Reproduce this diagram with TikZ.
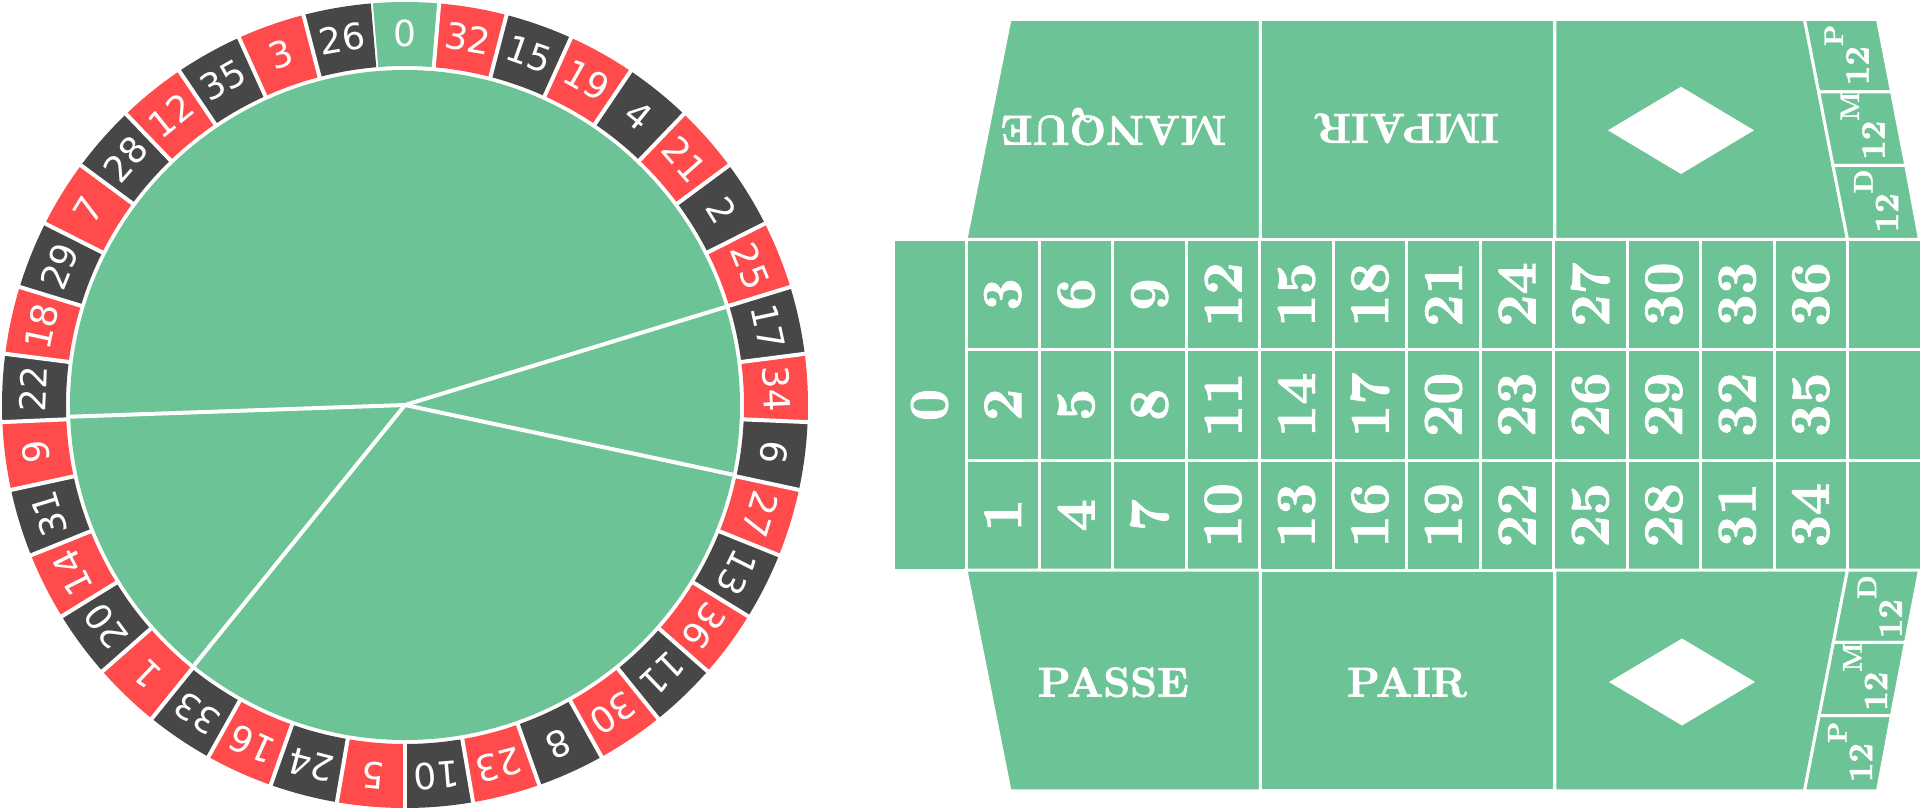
\documentclass[tikz,border=0pt]{standalone}
\usepackage{fontspec}
\newfontfamily\wheelfont{DejaVu Sans}
\newfontfamily\tfont{lmroman10-bold.otf}[FakeBold=1.6]
\definecolor{felt}{HTML}{6CC395}
\definecolor{pred}{HTML}{FF4B4B}
\definecolor{pdark}{HTML}{474747}
\begin{document}
\begin{tikzpicture}[x=1pt,y=1pt,
  cell/.style={fill=felt,draw=white,line width=3pt,line join=miter},
  sep/.style={draw=white,line width=4pt},
  spoke/.style={draw=white,line width=4pt},
  wlabel/.style={text=white,font=\wheelfont\fontsize{36}{40}\selectfont,inner sep=0pt},
  num/.style={text=white,font=\tfont\fontsize{56}{60}\selectfont,rotate=90,inner sep=0pt},
  word/.style={text=white,font=\tfont\fontsize{42}{46}\selectfont,inner sep=0pt,anchor=base},
  doz/.style={text=white,font=\tfont\fontsize{34}{38}\selectfont,rotate=90,inner sep=0pt},
  gem/.style={fill=white}]
\useasboundingbox (0,0) rectangle (1920,-810);
% ---------------- wheel ----------------
\coordinate (c) at (405,-405);
\fill[felt] (c) circle (335);
\foreach \n [count=\j from 0] in {0,32,15,19,4,21,2,25,17,34,6,27,13,36,11,30,8,23,10,5,24,16,33,1,20,14,31,9,22,18,29,7,28,12,35,3,26}{
  \pgfmathsetmacro\a{90-\j*360/37}
  \pgfmathsetmacro\aa{\a+180/37}
  \pgfmathsetmacro\ab{\a-180/37}
  \ifnum\j=0 \def\col{felt}\else\ifodd\j \def\col{pred}\else\def\col{pdark}\fi\fi
  \fill[fill=\col] ([shift={(c)}]\aa:403) arc[start angle=\aa, end angle=\ab, radius=403]
     -- ([shift={(c)}]\ab:339) arc[start angle=\ab, end angle=\aa, radius=339] -- cycle;
  \draw[sep] ([shift={(c)}]\aa:337) -- ([shift={(c)}]\aa:406);
  \node[wlabel, rotate=\a-90] (w\n) at ([shift={(c)}]\a:372) {\n};
}
\coordinate (e1) at ([shift={(c)}]17:335);
\coordinate (e2) at ([shift={(c)}]182:335);
\coordinate (e3) at ([shift={(c)}]231:335);
\coordinate (e4) at ([shift={(c)}]-12:335);
\draw[spoke] (c) -- (e1);
\draw[spoke] (c) -- (e2);
\draw[spoke] (c) -- (e3);
\draw[spoke] (c) -- (e4);
% ---------------- table: top section ----------------
\draw[cell] (1010,-19.5) -- (1260.4,-19.5) -- (1260.4,-239.5) -- (966,-239.5) -- cycle;
\draw[cell] (1260.4,-19.5) rectangle (1554.8,-239.5);
\draw[cell] (1554.8,-19.5) -- (1804.5,-19.5) -- (1847.5,-239.5) -- (1554.8,-239.5) -- cycle;
\draw[cell] (1804.5,-19.5) -- (1877.5,-19.5) -- (1891.6,-92) -- (1818.7,-92) -- cycle;
\draw[cell] (1818.7,-92) -- (1891.6,-92) -- (1905.8,-165.5) -- (1833.0,-165.5) -- cycle;
\draw[cell] (1833.0,-165.5) -- (1905.8,-165.5) -- (1919.5,-239.5) -- (1847.5,-239.5) -- cycle;
\node[word, rotate=180] (manque) at (1113.5,-116) {MANQUE};
\node[word, rotate=180] (impair) at (1406.7,-114) {IMPAIR};
\path[gem] (1608,-130.3) -- (1681,-86.7) -- (1754,-130.3) -- (1681,-174) -- cycle;
\node[doz] (dP1) at (1846.5,-55) {12\raisebox{0.75em}{\fontsize{27}{27}\selectfont P}};
\node[doz] (dM1) at (1862.5,-125.5) {12\raisebox{0.75em}{\fontsize{27}{27}\selectfont M}};
\node[doz] (dD1) at (1876,-201) {12\raisebox{0.75em}{\fontsize{27}{27}\selectfont D}};
% ---------------- table: grid ----------------
\draw[cell] (893,-239.5) rectangle (966,-570.5);
\node[num] (g0) at (929.5,-405) {0};
\foreach \cc in {0,...,11}{
  \foreach \r in {0,1,2}{
    \pgfmathsetmacro\xa{966+\cc*73.46}
    \pgfmathsetmacro\xb{966+(\cc+1)*73.46}
    \pgfmathsetmacro\ya{{239.5,349.5,460}[\r]}
    \pgfmathsetmacro\yb{{349.5,460,570.5}[\r]}
    \pgfmathtruncatemacro\n{3*\cc+3-\r}
    \draw[cell] (\xa,-\ya) rectangle (\xb,-\yb);
    \node[num] (g\n) at ({(\xa+\xb)/2},{-(\ya+\yb)/2}) {\n};
  }
}
\foreach \r in {0,1,2}{
  \pgfmathsetmacro\ya{{239.5,349.5,460}[\r]}
  \pgfmathsetmacro\yb{{349.5,460,570.5}[\r]}
  \draw[cell] (1847.5,-\ya) rectangle (1921,-\yb);
}
% ---------------- table: bottom section ----------------
\draw[cell] (966,-570) -- (1260.4,-570) -- (1260.4,-790.8) -- (1010,-790.8) -- cycle;
\draw[cell] (1260.4,-570) rectangle (1554.8,-790.8);
\draw[cell] (1554.8,-570) -- (1847.5,-570) -- (1804.5,-790.8) -- (1554.8,-790.8) -- cycle;
\draw[cell] (1847.5,-570) -- (1919.5,-570) -- (1905.5,-642.3) -- (1833.4,-642.3) -- cycle;
\draw[cell] (1833.4,-642.3) -- (1905.5,-642.3) -- (1891.4,-715.7) -- (1819.1,-715.7) -- cycle;
\draw[cell] (1819.1,-715.7) -- (1891.4,-715.7) -- (1877.5,-790.8) -- (1804.5,-790.8) -- cycle;
\node[word] (passe) at (1113.3,-696.7) {PASSE};
\node[word] (pair) at (1407,-696.7) {PAIR};
\path[gem] (1609,-682) -- (1682,-638.5) -- (1755,-682) -- (1682,-725.5) -- cycle;
\node[doz] (dD2) at (1879.7,-606.7) {12\raisebox{0.75em}{\fontsize{27}{27}\selectfont D}};
\node[doz] (dM2) at (1865,-676.5) {12\raisebox{0.75em}{\fontsize{27}{27}\selectfont M}};
\node[doz] (dP2) at (1850,-752) {12\raisebox{0.75em}{\fontsize{27}{27}\selectfont P}};
\end{tikzpicture}
\end{document}
